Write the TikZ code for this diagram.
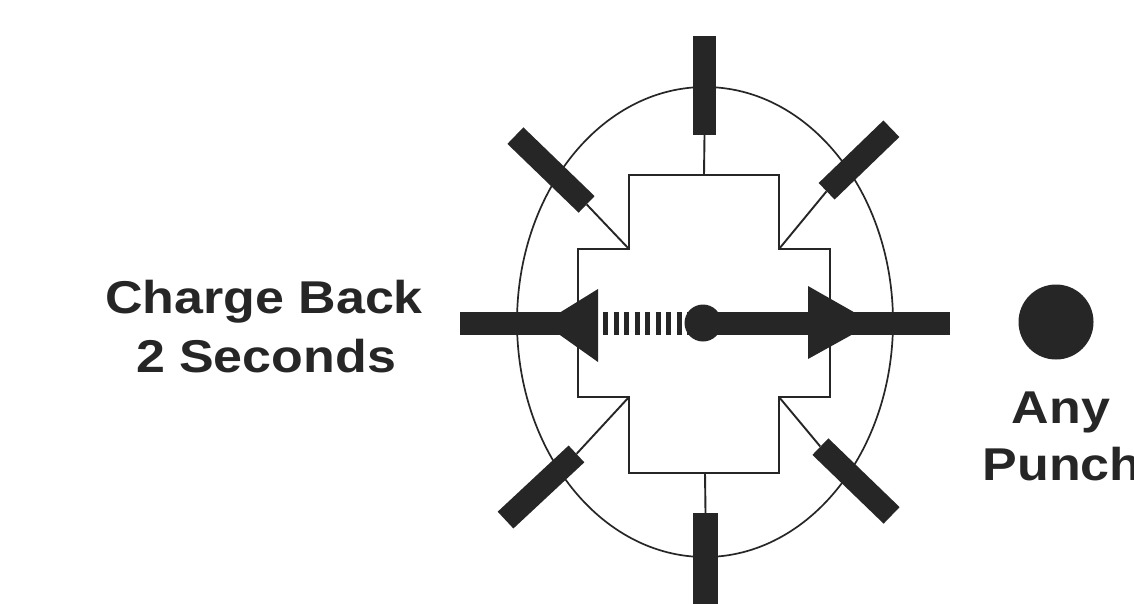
\documentclass[tikz,border=0pt]{standalone}
\usepackage{fontspec}
\setmainfont{Liberation Sans}
\definecolor{ink}{RGB}{38,38,38}
\begin{document}
\begin{tikzpicture}[x=1pt,y=-1pt,
  bar/.style={draw=none,fill=ink,rectangle,inner sep=0pt,minimum height=23pt},
  thin/.style={draw=ink,line width=1.9pt},
  lab/.style={font=\fontsize{46}{59}\selectfont\bfseries,text=ink,xscale=1.13,inner sep=0pt,anchor=base}]
\useasboundingbox (0,0) rectangle (1134,603);
\fill[white] (0,0) rectangle (1134,603);
\clip (0,0) rectangle (1134,603);
% ellipse
\draw[thin,line width=1.7pt] (705,322) ellipse [x radius=188, y radius=235];
% cross corners
\coordinate (c1) at (629,175); \coordinate (c2) at (779,175);
\coordinate (c3) at (779,249); \coordinate (c4) at (830,249);
\coordinate (c5) at (830,397); \coordinate (c6) at (779,397);
\coordinate (c7) at (779,473); \coordinate (c8) at (629,473);
\coordinate (c9) at (629,397); \coordinate (c10) at (578,397);
\coordinate (c11) at (578,249); \coordinate (c12) at (629,249);
\coordinate (ctop) at (704,175); \coordinate (cbot) at (705,473);
\draw[thin,line join=miter] (c1)--(c2)--(c3)--(c4)--(c5)--(c6)--(c7)--(c8)--(c9)--(c10)--(c11)--(c12)--cycle;
% bars
\node[bar,minimum width=23pt,minimum height=99pt] (tb) at (704.5,85.5) {};
\node[bar,minimum width=25pt,minimum height=104pt] (bb) at (705.5,565) {};
\node[bar,minimum width=99pt,rotate=-44] (tl) at (551,170) {};
\node[bar,minimum width=90pt,rotate=44] (tr) at (859,160) {};
\node[bar,minimum width=97pt,rotate=43] (bl) at (541,487) {};
\node[bar,minimum width=99pt,rotate=-44] (br) at (856,481) {};
\draw[thin] (tb.south) -- (ctop);
\draw[thin] (bb.north) -- (cbot);
\draw[thin] (tl.east) -- (c12);
\draw[thin] (tr.west) -- (c3);
\draw[thin] (bl.east) -- (c9);
\draw[thin] (br.west) -- (c6);
% arrow
\coordinate (lend) at (460,323);
\coordinate (lbase) at (598,323);
\coordinate (sstart) at (603,323);
\coordinate (send) at (690,323);
\coordinate (rend) at (950,323);
\node[circle,fill=ink,inner sep=0pt,minimum size=37pt] (hub) at (703,323) {};
\draw[ink,line width=23pt] (lend) -- (lbase);
\draw[ink,line width=23pt,dash pattern=on 5pt off 5.5pt] (sstart) -- (send);
\draw[ink,line width=23pt] (hub.center) -- (rend);
\fill[ink] (543,323) -- (598,289) -- (598,362) -- cycle;
\fill[ink] (873,323) -- (808,286) -- (808,359) -- cycle;
% punch dot
\node[circle,fill=ink,inner sep=0pt,minimum size=75pt] (dot) at (1056,322) {};
% labels
\node[lab] (cb1) at (264,313) {Charge Back};
\node[lab] (cb2) at (266,372) {2 Seconds};
\node[lab] (ap1) at (1061,423) {Any};
\node[lab] (ap2) at (1062,480) {Punch};
\end{tikzpicture}
\end{document}
